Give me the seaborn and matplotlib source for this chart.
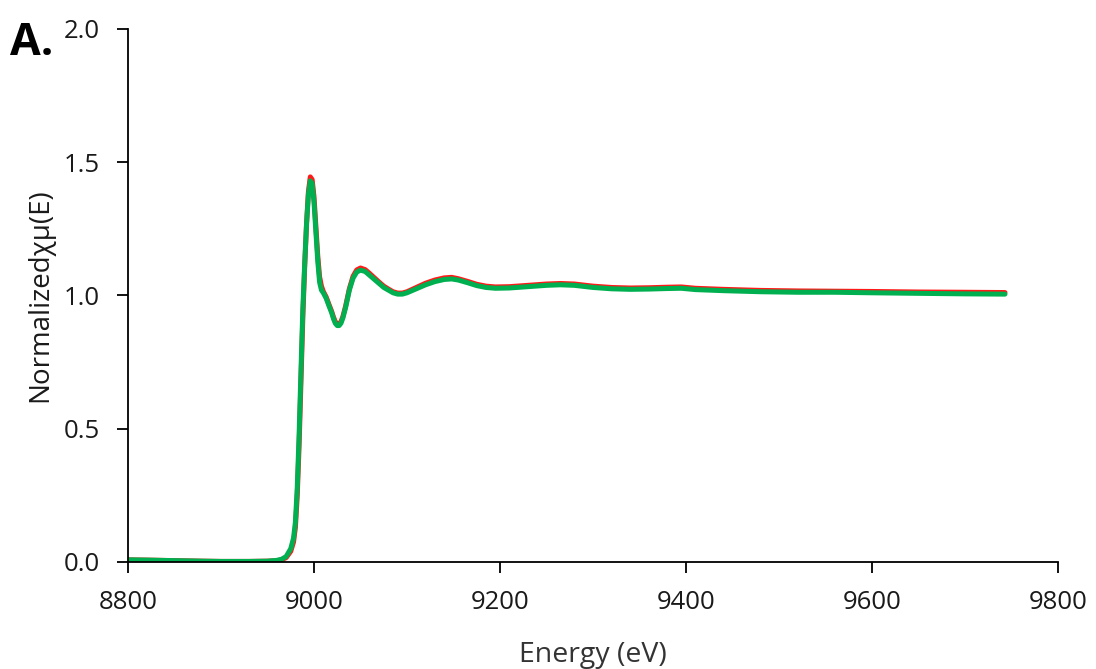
import matplotlib
matplotlib.use("Agg")
import matplotlib.pyplot as plt
import seaborn as sns
import pandas as pd

# Photon energy grid (eV)
energy = [8800, 8820, 8850, 8880, 8900, 8930, 8950, 8960, 8965, 8970, 8975, 8978,
          8980, 8982, 8984, 8986, 8988, 8990, 8992, 8994, 8996, 8998, 9000, 9002,
          9004, 9006, 9008, 9010, 9013, 9016, 9019, 9021, 9023, 9025, 9027, 9029,
          9031, 9034, 9038, 9042, 9046, 9050, 9055, 9060, 9065, 9070, 9075, 9080,
          9085, 9090, 9095, 9100, 9110, 9120, 9130, 9140, 9148, 9155, 9165, 9175,
          9185, 9195, 9210, 9230, 9250, 9265, 9280, 9300, 9320, 9340, 9360, 9380,
          9395, 9410, 9440, 9480, 9520, 9560, 9600, 9650, 9700, 9743]

# Normalized absorption, sample 1 (red)
mu_red = [0.008, 0.007, 0.005, 0.003, 0.002, 0.002, 0.003, 0.005, 0.008, 0.016, 0.04, 0.075,
          0.13, 0.25, 0.44, 0.68, 0.92, 1.11, 1.27, 1.39, 1.445, 1.435, 1.37, 1.26,
          1.15, 1.07, 1.035, 1.015, 0.995, 0.967, 0.94, 0.918, 0.901, 0.893, 0.893, 0.902,
          0.92, 0.96, 1.025, 1.072, 1.096, 1.103, 1.097, 1.082, 1.066, 1.05, 1.035, 1.024,
          1.014, 1.009, 1.009, 1.014, 1.03, 1.046, 1.058, 1.066, 1.068, 1.063, 1.053, 1.042,
          1.035, 1.032, 1.033, 1.038, 1.043, 1.045, 1.043, 1.035, 1.03, 1.028, 1.029, 1.031,
          1.032, 1.027, 1.023, 1.019, 1.017, 1.016, 1.015, 1.013, 1.012, 1.011]

# Normalized absorption, sample 2 (green)
mu_green = [0.008, 0.007, 0.005, 0.003, 0.002, 0.002, 0.003, 0.006, 0.010, 0.02, 0.05, 0.09,
            0.15, 0.28, 0.48, 0.72, 0.95, 1.12, 1.27, 1.38, 1.43, 1.42, 1.35, 1.24,
            1.13, 1.05, 1.02, 1.01, 0.99, 0.962, 0.935, 0.912, 0.895, 0.887, 0.887, 0.896,
            0.915, 0.955, 1.02, 1.065, 1.088, 1.095, 1.09, 1.075, 1.06, 1.045, 1.03, 1.02,
            1.01, 1.005, 1.005, 1.01, 1.025, 1.04, 1.052, 1.06, 1.062, 1.058, 1.048, 1.037,
            1.03, 1.027, 1.028, 1.033, 1.038, 1.04, 1.038, 1.03, 1.025, 1.023, 1.024, 1.026,
            1.027, 1.022, 1.018, 1.014, 1.012, 1.012, 1.010, 1.008, 1.006, 1.005]

x_ticks = [8800, 9000, 9200, 9400, 9600, 9800]
y_ticks = [0.0, 0.5, 1.0, 1.5, 2.0]

sns.set_style("ticks")
plt.rcParams["font.family"] = ["Open Sans", "DejaVu Sans"]

df = pd.DataFrame({
    "energy": energy * 2,
    "mu": mu_red + mu_green,
    "sample": ["S1"] * len(energy) + ["S2"] * len(energy),
})

fig = plt.figure(figsize=(10.96, 6.69), dpi=100)
ax = fig.add_axes([0.1168, 0.16, 0.8485, 0.7967])

sns.lineplot(data=df, x="energy", y="mu", hue="sample",
             palette={"S1": "#ff1a1a", "S2": "#00b050"},
             linewidth=3.6, legend=False, ax=ax, sort=False)
for line in ax.get_lines():
    line.set_solid_capstyle("round")
    line.set_solid_joinstyle("round")

ax.set_xlim(8800, 9800)
ax.set_ylim(0, 2.0)
ax.set_xticks(x_ticks)
ax.set_yticks(y_ticks)
ax.set_xticklabels([str(t) for t in x_ticks])
ax.set_yticklabels([f"{t:.1f}" for t in y_ticks])
ax.tick_params(axis="both", labelsize=18.5, width=1.3, length=8, colors="black",
               labelcolor="#1a1a1a")
ax.tick_params(axis="x", pad=12)
ax.tick_params(axis="y", pad=12)
for side in ("left", "bottom"):
    ax.spines[side].set_linewidth(1.3)
    ax.spines[side].set_color("black")
sns.despine(ax=ax)

ax.set_xlabel("Energy (eV)", fontsize=20.5, color="#333333", labelpad=19)
ax.set_ylabel("Normalizedχμ(E)", fontsize=20, color="#1a1a1a", labelpad=7)

fig.text(0.009, 0.918, "A.", fontsize=32, fontweight="bold", color="black")

fig.savefig("out.png", dpi=100)
